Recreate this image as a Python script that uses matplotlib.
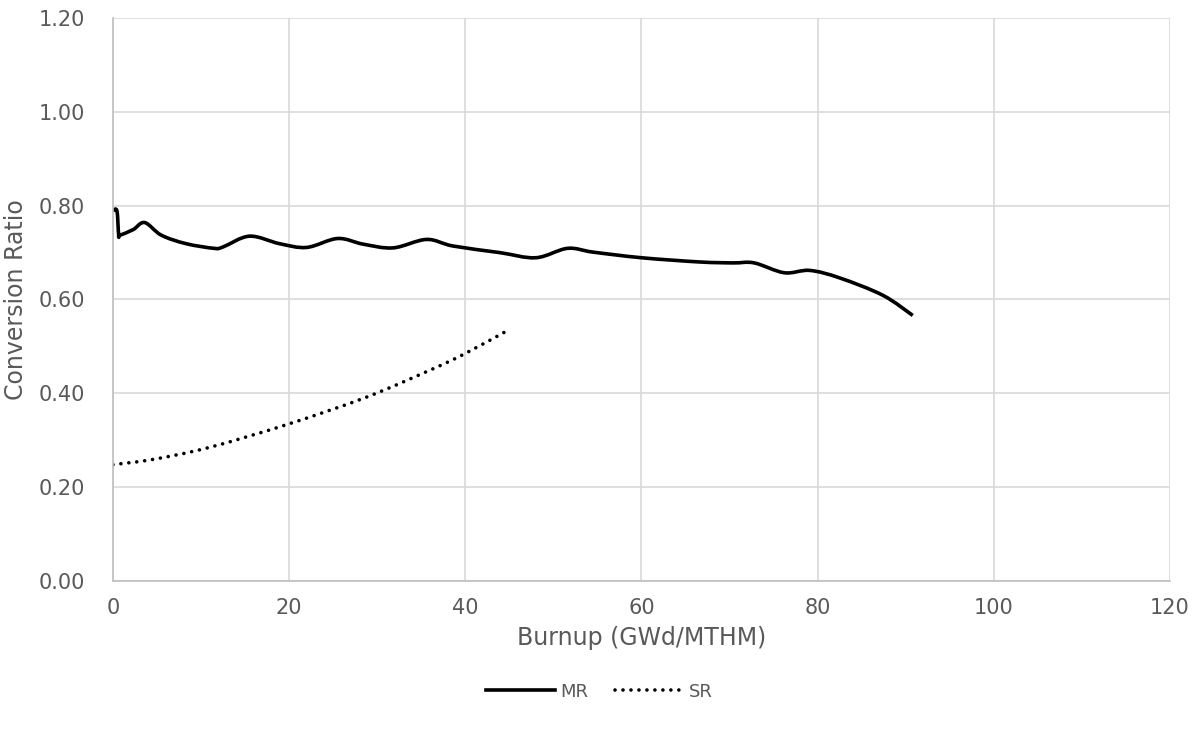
import numpy as np
import matplotlib.pyplot as plt
from matplotlib.path import Path
from matplotlib.patches import PathPatch
from matplotlib.lines import Line2D

# MR conversion ratio vs burnup
mr_burnup = [0, 0.45, 0.65, 0.8, 2.3, 3.6, 5.5, 8.3, 11.5, 12.5, 15.5, 18.9, 22.0,
             25.5, 28.4, 31.8, 35.6, 38.6, 43.9, 48.0, 51.6, 54.5, 60.0, 66.6,
             70.4, 72.8, 76.2, 79.1, 82.5, 87.4, 90.8]
mr_ratio = [0.789, 0.789, 0.737, 0.737, 0.749, 0.764, 0.737, 0.719, 0.709, 0.712,
            0.735, 0.719, 0.711, 0.730, 0.718, 0.710, 0.728, 0.714, 0.700, 0.689,
            0.709, 0.701, 0.689, 0.680, 0.678, 0.678, 0.657, 0.662, 0.646, 0.609,
            0.566]

# SR conversion ratio vs burnup
sr_burnup = [0, 4.5, 11, 20, 28.8, 36.3, 40, 45]
sr_ratio = [0.248, 0.259, 0.285, 0.335, 0.392, 0.452, 0.485, 0.536]

txt = '#595959'
lw = 2.6


def smooth_path(xs, ys):
    # cubic bezier through the points (catmull-rom style), like a smoothed line chart
    p = np.column_stack([xs, ys]).astype(float)
    n = len(p)
    verts = [p[0]]
    codes = [Path.MOVETO]
    for i in range(n - 1):
        p0 = p[i - 1] if i > 0 else p[i]
        p3 = p[i + 2] if i + 2 < n else p[i + 1]
        c1 = p[i] + (p[i + 1] - p0) / 6
        c2 = p[i + 1] - (p3 - p[i]) / 6
        verts += [c1, c2, p[i + 1]]
        codes += [Path.CURVE4] * 3
    return Path(verts, codes)


fig = plt.figure(figsize=(11.99, 7.32), dpi=100)
ax = fig.add_axes([0.0942, 0.2063, 0.8816, 0.7691])

ax.add_patch(PathPatch(smooth_path(mr_burnup, mr_ratio), fill=False,
                       edgecolor='black', lw=lw, joinstyle='round', capstyle='butt'))
ax.add_patch(PathPatch(smooth_path(sr_burnup, sr_ratio), fill=False,
                       edgecolor='black', lw=lw, linestyle=(0, (0.01, 2.2)),
                       capstyle='round'))

ax.set_xlim(0, 120)
ax.set_ylim(0, 1.2)
ax.set_xticks(np.arange(0, 121, 20))
ax.set_yticks(np.arange(0, 1.21, 0.2))
ax.set_yticklabels(['%.2f' % v for v in np.arange(0, 1.21, 0.2)])

ax.grid(True, color='#d9d9d9', lw=1.2)
ax.set_axisbelow(True)
for s in ['top', 'right']:
    ax.spines[s].set_visible(False)
for s in ['left', 'bottom']:
    ax.spines[s].set_color('#bfbfbf')
    ax.spines[s].set_linewidth(1.2)
ax.tick_params(length=0, labelsize=15, colors=txt)
ax.tick_params(axis='y', pad=20)
ax.tick_params(axis='x', pad=12)

ax.set_xlabel('Burnup (GWd/MTHM)', fontsize=17, color=txt, labelpad=6)
ax.set_ylabel('Conversion Ratio', fontsize=17, color=txt, labelpad=8)

handles = [Line2D([], [], color='black', lw=lw),
           Line2D([], [], color='black', lw=lw, linestyle=(0, (0.01, 2.2)),
                  dash_capstyle='round')]
fig.legend(handles, ['MR', 'SR'], loc='center', bbox_to_anchor=(0.5, 0.055),
           ncol=2, frameon=False, fontsize=13, labelcolor=txt,
           handlelength=3.8, handletextpad=0.3, columnspacing=1.5)

fig.savefig('out.png', dpi=100)
